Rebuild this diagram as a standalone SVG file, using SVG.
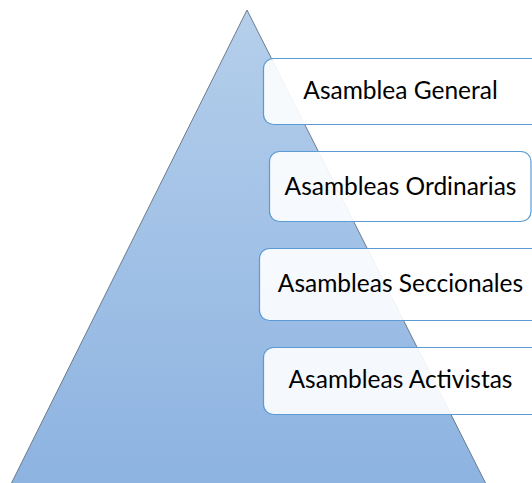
<svg xmlns="http://www.w3.org/2000/svg" width="532" height="483" viewBox="0 0 532 483">
<defs>
<linearGradient id="tri" x1="0" y1="0" x2="0" y2="1">
<stop offset="0" stop-color="#b5cfeb"/>
<stop offset="1" stop-color="#8db3e1"/>
</linearGradient>
</defs>
<style>
.box{fill:#ffffff;fill-opacity:0.9;stroke:#5b9bd5;stroke-width:1.2}
.lbl{font-family:Lato,"Liberation Sans",sans-serif;font-size:24.5px;fill:#000000;text-anchor:middle}
</style>
<rect width="532" height="483" fill="#ffffff"/>
<g id="pyramid">
<polygon points="247,10 11,484 486,484" fill="url(#tri)" stroke="#6b7b8c" stroke-width="1"/>
</g>
<g id="connectors"/>
<g id="n1">
<rect class="box" x="263.5" y="58.5" width="285" height="66" rx="10"/>
<text class="lbl" x="400.5" y="99">Asamblea General</text>
</g>
<g id="n2">
<rect class="box" x="269.5" y="151.5" width="261.5" height="70" rx="10"/>
<text class="lbl" x="400.5" y="195">Asambleas Ordinarias</text>
</g>
<g id="n3">
<rect class="box" x="259.5" y="248.5" width="290" height="72" rx="10"/>
<text class="lbl" x="400.5" y="291.5">Asambleas Seccionales</text>
</g>
<g id="n4">
<rect class="box" x="263.5" y="347.5" width="285" height="67" rx="10"/>
<text class="lbl" x="400.5" y="388">Asambleas Activistas</text>
</g>
</svg>
